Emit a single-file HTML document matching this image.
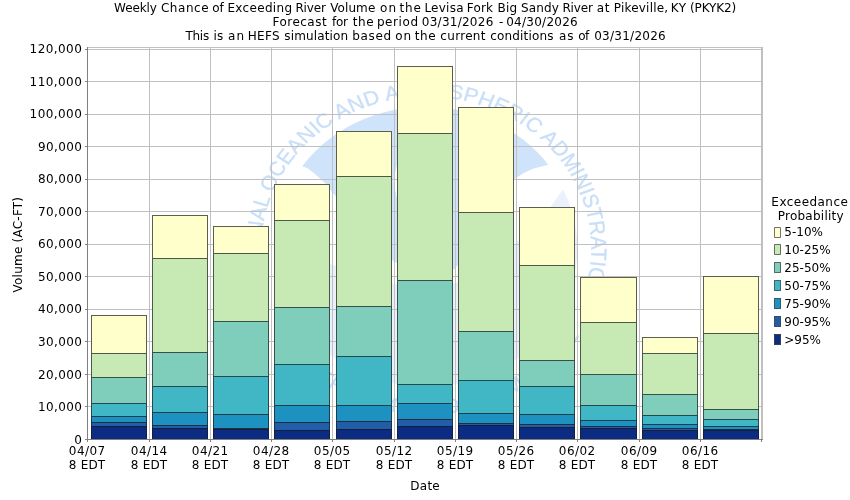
<!DOCTYPE html>
<html lang="en"><head><meta charset="utf-8"><title>Weekly Chance of Exceeding River Volume</title>
<style>html,body{margin:0;padding:0;background:#fff}body{width:850px;height:500px;overflow:hidden}svg{display:block;will-change:transform}text{font-family:"DejaVu Sans","Liberation Sans",sans-serif;font-size:12px;fill:#000}.wm{font-family:"Liberation Sans",sans-serif;font-size:20px;fill:#c9dff8;stroke:#c9dff8;stroke-width:0.35px}</style></head><body>
<svg width="850" height="500" viewBox="0 0 850 500">
<rect width="850" height="500" fill="#fff"/>
<defs><clipPath id="pc"><rect x="88" y="48" width="674" height="391"/></clipPath><path id="arc" d="M 0 152 A 152 152 0 1 1 0.01 152"/><path id="arcb" d="M -165.7 0 A 165.7 165.7 0 0 0 165.7 0"/></defs>
<g clip-path="url(#pc)">
<path d="M563 189.4 L550 207.5 L516 243 L480 272 L455 283 L425 287 L394 284 L333 265 L290 250 L275 250 A151.3 140.6 0 0 0 577.5 250 A151.3 140.6 0 0 0 563 189.4 Z" fill="#eaf1fc"/>
<path d="M302.2 166.3 A151.3 140.6 0 0 1 548.3 164.7 L533.5 168.5 L524 173 L514 179 Q480 232 455 269 Q432 277 394 262 L333 193 L326 184 L315 174 L308 168.4 Z" fill="#cfe4fa"/>
<path d="M393.5 181 L396.5 166 L452 170 L452 200 L396.5 197 Z" fill="#fff"/>
<g transform="translate(426.2,248.6) scale(1.086,1)">
<text class="wm" text-anchor="middle"><textPath href="#arc" startOffset="50%" textLength="573" lengthAdjust="spacing">NATIONAL OCEANIC AND ATMOSPHERIC ADMINISTRATION</textPath></text>
<text class="wm" text-anchor="middle"><textPath href="#arcb" startOffset="50%">U.S. DEPARTMENT OF COMMERCE</textPath></text>
</g>
</g>
<g shape-rendering="crispEdges">
<rect x="149" y="48" width="1" height="391" fill="#c0c0c0"/>
<rect x="210" y="48" width="1" height="391" fill="#c0c0c0"/>
<rect x="271" y="48" width="1" height="391" fill="#c0c0c0"/>
<rect x="332" y="48" width="1" height="391" fill="#c0c0c0"/>
<rect x="394" y="48" width="1" height="391" fill="#c0c0c0"/>
<rect x="455" y="48" width="1" height="391" fill="#c0c0c0"/>
<rect x="516" y="48" width="1" height="391" fill="#c0c0c0"/>
<rect x="577" y="48" width="1" height="391" fill="#c0c0c0"/>
<rect x="639" y="48" width="1" height="391" fill="#c0c0c0"/>
<rect x="700" y="48" width="1" height="391" fill="#c0c0c0"/>
<rect x="761" y="48" width="1" height="391" fill="#c0c0c0"/>
<rect x="88" y="406" width="674" height="1" fill="#c0c0c0"/>
<rect x="88" y="374" width="674" height="1" fill="#c0c0c0"/>
<rect x="88" y="341" width="674" height="1" fill="#c0c0c0"/>
<rect x="88" y="309" width="674" height="1" fill="#c0c0c0"/>
<rect x="88" y="276" width="674" height="1" fill="#c0c0c0"/>
<rect x="88" y="244" width="674" height="1" fill="#c0c0c0"/>
<rect x="88" y="211" width="674" height="1" fill="#c0c0c0"/>
<rect x="88" y="179" width="674" height="1" fill="#c0c0c0"/>
<rect x="88" y="146" width="674" height="1" fill="#c0c0c0"/>
<rect x="88" y="114" width="674" height="1" fill="#c0c0c0"/>
<rect x="88" y="81" width="674" height="1" fill="#c0c0c0"/>
<rect x="88" y="49" width="674" height="1" fill="#c0c0c0"/>
<rect x="88" y="47" width="675" height="1" fill="#c0c0c0"/>
<rect x="762" y="47" width="1" height="393" fill="#c0c0c0"/>
<rect x="91" y="315" width="56" height="38" fill="#ffffcc"/>
<rect x="91" y="353" width="56" height="24" fill="#c7e9b4"/>
<rect x="91" y="377" width="56" height="26" fill="#7fcdbb"/>
<rect x="91" y="403" width="56" height="13" fill="#41b6c4"/>
<rect x="91" y="416" width="56" height="6" fill="#1d91c0"/>
<rect x="91" y="422" width="56" height="4" fill="#225ea8"/>
<rect x="91" y="426" width="56" height="13" fill="#0c2c84"/>
<rect x="91" y="315" width="1" height="124" fill="rgba(25,25,25,0.7)"/>
<rect x="146" y="315" width="1" height="124" fill="rgba(25,25,25,0.7)"/>
<rect x="92" y="315" width="54" height="1" fill="rgba(25,25,25,0.7)"/>
<rect x="92" y="353" width="54" height="1" fill="rgba(25,25,25,0.7)"/>
<rect x="92" y="377" width="54" height="1" fill="rgba(25,25,25,0.7)"/>
<rect x="92" y="403" width="54" height="1" fill="rgba(25,25,25,0.7)"/>
<rect x="92" y="416" width="54" height="1" fill="rgba(25,25,25,0.7)"/>
<rect x="92" y="422" width="54" height="1" fill="rgba(25,25,25,0.7)"/>
<rect x="92" y="426" width="54" height="1" fill="rgba(25,25,25,0.7)"/>
<rect x="152" y="215" width="56" height="43" fill="#ffffcc"/>
<rect x="152" y="258" width="56" height="94" fill="#c7e9b4"/>
<rect x="152" y="352" width="56" height="34" fill="#7fcdbb"/>
<rect x="152" y="386" width="56" height="26" fill="#41b6c4"/>
<rect x="152" y="412" width="56" height="13" fill="#1d91c0"/>
<rect x="152" y="425" width="56" height="3" fill="#225ea8"/>
<rect x="152" y="428" width="56" height="11" fill="#0c2c84"/>
<rect x="152" y="215" width="1" height="224" fill="rgba(25,25,25,0.7)"/>
<rect x="207" y="215" width="1" height="224" fill="rgba(25,25,25,0.7)"/>
<rect x="153" y="215" width="54" height="1" fill="rgba(25,25,25,0.7)"/>
<rect x="153" y="258" width="54" height="1" fill="rgba(25,25,25,0.7)"/>
<rect x="153" y="352" width="54" height="1" fill="rgba(25,25,25,0.7)"/>
<rect x="153" y="386" width="54" height="1" fill="rgba(25,25,25,0.7)"/>
<rect x="153" y="412" width="54" height="1" fill="rgba(25,25,25,0.7)"/>
<rect x="153" y="425" width="54" height="1" fill="rgba(25,25,25,0.7)"/>
<rect x="153" y="428" width="54" height="1" fill="rgba(25,25,25,0.7)"/>
<rect x="213" y="226" width="56" height="27" fill="#ffffcc"/>
<rect x="213" y="253" width="56" height="68" fill="#c7e9b4"/>
<rect x="213" y="321" width="56" height="55" fill="#7fcdbb"/>
<rect x="213" y="376" width="56" height="38" fill="#41b6c4"/>
<rect x="213" y="414" width="56" height="14" fill="#1d91c0"/>
<rect x="213" y="428" width="56" height="1" fill="#225ea8"/>
<rect x="213" y="429" width="56" height="10" fill="#0c2c84"/>
<rect x="213" y="226" width="1" height="213" fill="rgba(25,25,25,0.7)"/>
<rect x="268" y="226" width="1" height="213" fill="rgba(25,25,25,0.7)"/>
<rect x="214" y="226" width="54" height="1" fill="rgba(25,25,25,0.7)"/>
<rect x="214" y="253" width="54" height="1" fill="rgba(25,25,25,0.7)"/>
<rect x="214" y="321" width="54" height="1" fill="rgba(25,25,25,0.7)"/>
<rect x="214" y="376" width="54" height="1" fill="rgba(25,25,25,0.7)"/>
<rect x="214" y="414" width="54" height="1" fill="rgba(25,25,25,0.7)"/>
<rect x="214" y="428" width="54" height="1" fill="rgba(25,25,25,0.7)"/>
<rect x="214" y="429" width="54" height="1" fill="rgba(25,25,25,0.7)"/>
<rect x="274" y="184" width="56" height="36" fill="#ffffcc"/>
<rect x="274" y="220" width="56" height="87" fill="#c7e9b4"/>
<rect x="274" y="307" width="56" height="57" fill="#7fcdbb"/>
<rect x="274" y="364" width="56" height="41" fill="#41b6c4"/>
<rect x="274" y="405" width="56" height="17" fill="#1d91c0"/>
<rect x="274" y="422" width="56" height="8" fill="#225ea8"/>
<rect x="274" y="430" width="56" height="9" fill="#0c2c84"/>
<rect x="274" y="184" width="1" height="255" fill="rgba(25,25,25,0.7)"/>
<rect x="329" y="184" width="1" height="255" fill="rgba(25,25,25,0.7)"/>
<rect x="275" y="184" width="54" height="1" fill="rgba(25,25,25,0.7)"/>
<rect x="275" y="220" width="54" height="1" fill="rgba(25,25,25,0.7)"/>
<rect x="275" y="307" width="54" height="1" fill="rgba(25,25,25,0.7)"/>
<rect x="275" y="364" width="54" height="1" fill="rgba(25,25,25,0.7)"/>
<rect x="275" y="405" width="54" height="1" fill="rgba(25,25,25,0.7)"/>
<rect x="275" y="422" width="54" height="1" fill="rgba(25,25,25,0.7)"/>
<rect x="275" y="430" width="54" height="1" fill="rgba(25,25,25,0.7)"/>
<rect x="336" y="131" width="56" height="45" fill="#ffffcc"/>
<rect x="336" y="176" width="56" height="130" fill="#c7e9b4"/>
<rect x="336" y="306" width="56" height="50" fill="#7fcdbb"/>
<rect x="336" y="356" width="56" height="49" fill="#41b6c4"/>
<rect x="336" y="405" width="56" height="16" fill="#1d91c0"/>
<rect x="336" y="421" width="56" height="8" fill="#225ea8"/>
<rect x="336" y="429" width="56" height="10" fill="#0c2c84"/>
<rect x="336" y="131" width="1" height="308" fill="rgba(25,25,25,0.7)"/>
<rect x="391" y="131" width="1" height="308" fill="rgba(25,25,25,0.7)"/>
<rect x="337" y="131" width="54" height="1" fill="rgba(25,25,25,0.7)"/>
<rect x="337" y="176" width="54" height="1" fill="rgba(25,25,25,0.7)"/>
<rect x="337" y="306" width="54" height="1" fill="rgba(25,25,25,0.7)"/>
<rect x="337" y="356" width="54" height="1" fill="rgba(25,25,25,0.7)"/>
<rect x="337" y="405" width="54" height="1" fill="rgba(25,25,25,0.7)"/>
<rect x="337" y="421" width="54" height="1" fill="rgba(25,25,25,0.7)"/>
<rect x="337" y="429" width="54" height="1" fill="rgba(25,25,25,0.7)"/>
<rect x="397" y="66" width="56" height="67" fill="#ffffcc"/>
<rect x="397" y="133" width="56" height="147" fill="#c7e9b4"/>
<rect x="397" y="280" width="56" height="104" fill="#7fcdbb"/>
<rect x="397" y="384" width="56" height="19" fill="#41b6c4"/>
<rect x="397" y="403" width="56" height="16" fill="#1d91c0"/>
<rect x="397" y="419" width="56" height="7" fill="#225ea8"/>
<rect x="397" y="426" width="56" height="13" fill="#0c2c84"/>
<rect x="397" y="66" width="1" height="373" fill="rgba(25,25,25,0.7)"/>
<rect x="452" y="66" width="1" height="373" fill="rgba(25,25,25,0.7)"/>
<rect x="398" y="66" width="54" height="1" fill="rgba(25,25,25,0.7)"/>
<rect x="398" y="133" width="54" height="1" fill="rgba(25,25,25,0.7)"/>
<rect x="398" y="280" width="54" height="1" fill="rgba(25,25,25,0.7)"/>
<rect x="398" y="384" width="54" height="1" fill="rgba(25,25,25,0.7)"/>
<rect x="398" y="403" width="54" height="1" fill="rgba(25,25,25,0.7)"/>
<rect x="398" y="419" width="54" height="1" fill="rgba(25,25,25,0.7)"/>
<rect x="398" y="426" width="54" height="1" fill="rgba(25,25,25,0.7)"/>
<rect x="458" y="107" width="56" height="105" fill="#ffffcc"/>
<rect x="458" y="212" width="56" height="119" fill="#c7e9b4"/>
<rect x="458" y="331" width="56" height="49" fill="#7fcdbb"/>
<rect x="458" y="380" width="56" height="33" fill="#41b6c4"/>
<rect x="458" y="413" width="56" height="10" fill="#1d91c0"/>
<rect x="458" y="423" width="56" height="2" fill="#225ea8"/>
<rect x="458" y="425" width="56" height="14" fill="#0c2c84"/>
<rect x="458" y="107" width="1" height="332" fill="rgba(25,25,25,0.7)"/>
<rect x="513" y="107" width="1" height="332" fill="rgba(25,25,25,0.7)"/>
<rect x="459" y="107" width="54" height="1" fill="rgba(25,25,25,0.7)"/>
<rect x="459" y="212" width="54" height="1" fill="rgba(25,25,25,0.7)"/>
<rect x="459" y="331" width="54" height="1" fill="rgba(25,25,25,0.7)"/>
<rect x="459" y="380" width="54" height="1" fill="rgba(25,25,25,0.7)"/>
<rect x="459" y="413" width="54" height="1" fill="rgba(25,25,25,0.7)"/>
<rect x="459" y="423" width="54" height="1" fill="rgba(25,25,25,0.7)"/>
<rect x="459" y="425" width="54" height="1" fill="rgba(25,25,25,0.7)"/>
<rect x="519" y="207" width="56" height="58" fill="#ffffcc"/>
<rect x="519" y="265" width="56" height="95" fill="#c7e9b4"/>
<rect x="519" y="360" width="56" height="26" fill="#7fcdbb"/>
<rect x="519" y="386" width="56" height="28" fill="#41b6c4"/>
<rect x="519" y="414" width="56" height="10" fill="#1d91c0"/>
<rect x="519" y="424" width="56" height="3" fill="#225ea8"/>
<rect x="519" y="427" width="56" height="12" fill="#0c2c84"/>
<rect x="519" y="207" width="1" height="232" fill="rgba(25,25,25,0.7)"/>
<rect x="574" y="207" width="1" height="232" fill="rgba(25,25,25,0.7)"/>
<rect x="520" y="207" width="54" height="1" fill="rgba(25,25,25,0.7)"/>
<rect x="520" y="265" width="54" height="1" fill="rgba(25,25,25,0.7)"/>
<rect x="520" y="360" width="54" height="1" fill="rgba(25,25,25,0.7)"/>
<rect x="520" y="386" width="54" height="1" fill="rgba(25,25,25,0.7)"/>
<rect x="520" y="414" width="54" height="1" fill="rgba(25,25,25,0.7)"/>
<rect x="520" y="424" width="54" height="1" fill="rgba(25,25,25,0.7)"/>
<rect x="520" y="427" width="54" height="1" fill="rgba(25,25,25,0.7)"/>
<rect x="580" y="277" width="57" height="45" fill="#ffffcc"/>
<rect x="580" y="322" width="57" height="52" fill="#c7e9b4"/>
<rect x="580" y="374" width="57" height="31" fill="#7fcdbb"/>
<rect x="580" y="405" width="57" height="15" fill="#41b6c4"/>
<rect x="580" y="420" width="57" height="6" fill="#1d91c0"/>
<rect x="580" y="426" width="57" height="2" fill="#225ea8"/>
<rect x="580" y="428" width="57" height="11" fill="#0c2c84"/>
<rect x="580" y="277" width="1" height="162" fill="rgba(25,25,25,0.7)"/>
<rect x="636" y="277" width="1" height="162" fill="rgba(25,25,25,0.7)"/>
<rect x="581" y="277" width="55" height="1" fill="rgba(25,25,25,0.7)"/>
<rect x="581" y="322" width="55" height="1" fill="rgba(25,25,25,0.7)"/>
<rect x="581" y="374" width="55" height="1" fill="rgba(25,25,25,0.7)"/>
<rect x="581" y="405" width="55" height="1" fill="rgba(25,25,25,0.7)"/>
<rect x="581" y="420" width="55" height="1" fill="rgba(25,25,25,0.7)"/>
<rect x="581" y="426" width="55" height="1" fill="rgba(25,25,25,0.7)"/>
<rect x="581" y="428" width="55" height="1" fill="rgba(25,25,25,0.7)"/>
<rect x="642" y="337" width="56" height="16" fill="#ffffcc"/>
<rect x="642" y="353" width="56" height="41" fill="#c7e9b4"/>
<rect x="642" y="394" width="56" height="21" fill="#7fcdbb"/>
<rect x="642" y="415" width="56" height="9" fill="#41b6c4"/>
<rect x="642" y="424" width="56" height="4" fill="#1d91c0"/>
<rect x="642" y="428" width="56" height="2" fill="#225ea8"/>
<rect x="642" y="430" width="56" height="9" fill="#0c2c84"/>
<rect x="642" y="337" width="1" height="102" fill="rgba(25,25,25,0.7)"/>
<rect x="697" y="337" width="1" height="102" fill="rgba(25,25,25,0.7)"/>
<rect x="643" y="337" width="54" height="1" fill="rgba(25,25,25,0.7)"/>
<rect x="643" y="353" width="54" height="1" fill="rgba(25,25,25,0.7)"/>
<rect x="643" y="394" width="54" height="1" fill="rgba(25,25,25,0.7)"/>
<rect x="643" y="415" width="54" height="1" fill="rgba(25,25,25,0.7)"/>
<rect x="643" y="424" width="54" height="1" fill="rgba(25,25,25,0.7)"/>
<rect x="643" y="428" width="54" height="1" fill="rgba(25,25,25,0.7)"/>
<rect x="643" y="430" width="54" height="1" fill="rgba(25,25,25,0.7)"/>
<rect x="703" y="276" width="56" height="57" fill="#ffffcc"/>
<rect x="703" y="333" width="56" height="76" fill="#c7e9b4"/>
<rect x="703" y="409" width="56" height="10" fill="#7fcdbb"/>
<rect x="703" y="419" width="56" height="7" fill="#41b6c4"/>
<rect x="703" y="426" width="56" height="3" fill="#1d91c0"/>
<rect x="703" y="429" width="56" height="1" fill="#225ea8"/>
<rect x="703" y="430" width="56" height="9" fill="#0c2c84"/>
<rect x="703" y="276" width="1" height="163" fill="rgba(25,25,25,0.7)"/>
<rect x="758" y="276" width="1" height="163" fill="rgba(25,25,25,0.7)"/>
<rect x="704" y="276" width="54" height="1" fill="rgba(25,25,25,0.7)"/>
<rect x="704" y="333" width="54" height="1" fill="rgba(25,25,25,0.7)"/>
<rect x="704" y="409" width="54" height="1" fill="rgba(25,25,25,0.7)"/>
<rect x="704" y="419" width="54" height="1" fill="rgba(25,25,25,0.7)"/>
<rect x="704" y="426" width="54" height="1" fill="rgba(25,25,25,0.7)"/>
<rect x="704" y="429" width="54" height="1" fill="rgba(25,25,25,0.7)"/>
<rect x="704" y="430" width="54" height="1" fill="rgba(25,25,25,0.7)"/>
<rect x="87" y="47" width="1" height="395" fill="#808080"/>
<rect x="85" y="439" width="678" height="1" fill="#808080"/>
<rect x="85" y="406" width="2" height="1" fill="#808080"/>
<rect x="85" y="374" width="2" height="1" fill="#808080"/>
<rect x="85" y="341" width="2" height="1" fill="#808080"/>
<rect x="85" y="309" width="2" height="1" fill="#808080"/>
<rect x="85" y="276" width="2" height="1" fill="#808080"/>
<rect x="85" y="244" width="2" height="1" fill="#808080"/>
<rect x="85" y="211" width="2" height="1" fill="#808080"/>
<rect x="85" y="179" width="2" height="1" fill="#808080"/>
<rect x="85" y="146" width="2" height="1" fill="#808080"/>
<rect x="85" y="114" width="2" height="1" fill="#808080"/>
<rect x="85" y="81" width="2" height="1" fill="#808080"/>
<rect x="85" y="49" width="2" height="1" fill="#808080"/>
<rect x="149" y="440" width="1" height="2" fill="#808080"/>
<rect x="210" y="440" width="1" height="2" fill="#808080"/>
<rect x="271" y="440" width="1" height="2" fill="#808080"/>
<rect x="332" y="440" width="1" height="2" fill="#808080"/>
<rect x="394" y="440" width="1" height="2" fill="#808080"/>
<rect x="455" y="440" width="1" height="2" fill="#808080"/>
<rect x="516" y="440" width="1" height="2" fill="#808080"/>
<rect x="577" y="440" width="1" height="2" fill="#808080"/>
<rect x="639" y="440" width="1" height="2" fill="#808080"/>
<rect x="700" y="440" width="1" height="2" fill="#808080"/>
<rect x="761" y="440" width="1" height="2" fill="#808080"/>
</g>
<text x="81.8" y="444" text-anchor="end" textLength="8" lengthAdjust="spacing">0</text>
<text x="81.8" y="411" text-anchor="end" textLength="43.8" lengthAdjust="spacing">10,000</text>
<text x="81.8" y="379" text-anchor="end" textLength="43.8" lengthAdjust="spacing">20,000</text>
<text x="81.8" y="346" text-anchor="end" textLength="43.8" lengthAdjust="spacing">30,000</text>
<text x="81.8" y="313" text-anchor="end" textLength="43.8" lengthAdjust="spacing">40,000</text>
<text x="81.8" y="281" text-anchor="end" textLength="43.8" lengthAdjust="spacing">50,000</text>
<text x="81.8" y="248" text-anchor="end" textLength="43.8" lengthAdjust="spacing">60,000</text>
<text x="81.8" y="216" text-anchor="end" textLength="43.8" lengthAdjust="spacing">70,000</text>
<text x="81.8" y="183" text-anchor="end" textLength="43.8" lengthAdjust="spacing">80,000</text>
<text x="81.8" y="151" text-anchor="end" textLength="43.8" lengthAdjust="spacing">90,000</text>
<text x="81.8" y="118" text-anchor="end" textLength="52.2" lengthAdjust="spacing">100,000</text>
<text x="81.8" y="86" text-anchor="end" textLength="52.2" lengthAdjust="spacing">110,000</text>
<text x="81.8" y="53" text-anchor="end" textLength="52.2" lengthAdjust="spacing">120,000</text>
<text x="87" y="455" text-anchor="middle" textLength="36.3" lengthAdjust="spacing">04/07</text>
<text x="87" y="469" text-anchor="middle" textLength="36.3" lengthAdjust="spacing">8 EDT</text>
<text x="149" y="455" text-anchor="middle" textLength="36.3" lengthAdjust="spacing">04/14</text>
<text x="149" y="469" text-anchor="middle" textLength="36.3" lengthAdjust="spacing">8 EDT</text>
<text x="210" y="455" text-anchor="middle" textLength="36.3" lengthAdjust="spacing">04/21</text>
<text x="210" y="469" text-anchor="middle" textLength="36.3" lengthAdjust="spacing">8 EDT</text>
<text x="271" y="455" text-anchor="middle" textLength="36.3" lengthAdjust="spacing">04/28</text>
<text x="271" y="469" text-anchor="middle" textLength="36.3" lengthAdjust="spacing">8 EDT</text>
<text x="332" y="455" text-anchor="middle" textLength="36.3" lengthAdjust="spacing">05/05</text>
<text x="332" y="469" text-anchor="middle" textLength="36.3" lengthAdjust="spacing">8 EDT</text>
<text x="394" y="455" text-anchor="middle" textLength="36.3" lengthAdjust="spacing">05/12</text>
<text x="394" y="469" text-anchor="middle" textLength="36.3" lengthAdjust="spacing">8 EDT</text>
<text x="455" y="455" text-anchor="middle" textLength="36.3" lengthAdjust="spacing">05/19</text>
<text x="455" y="469" text-anchor="middle" textLength="36.3" lengthAdjust="spacing">8 EDT</text>
<text x="516" y="455" text-anchor="middle" textLength="36.3" lengthAdjust="spacing">05/26</text>
<text x="516" y="469" text-anchor="middle" textLength="36.3" lengthAdjust="spacing">8 EDT</text>
<text x="577" y="455" text-anchor="middle" textLength="36.3" lengthAdjust="spacing">06/02</text>
<text x="577" y="469" text-anchor="middle" textLength="36.3" lengthAdjust="spacing">8 EDT</text>
<text x="639" y="455" text-anchor="middle" textLength="36.3" lengthAdjust="spacing">06/09</text>
<text x="639" y="469" text-anchor="middle" textLength="36.3" lengthAdjust="spacing">8 EDT</text>
<text x="700" y="455" text-anchor="middle" textLength="36.3" lengthAdjust="spacing">06/16</text>
<text x="700" y="469" text-anchor="middle" textLength="36.3" lengthAdjust="spacing">8 EDT</text>
<text x="425" y="490" text-anchor="middle" textLength="29.5" lengthAdjust="spacing">Date</text>
<text transform="translate(22,244.7) rotate(-90)" text-anchor="middle" textLength="95.5" lengthAdjust="spacing">Volume (AC-FT)</text>
<text y="12"><tspan x="114.1" textLength="42.8" lengthAdjust="spacing">Weekly</tspan> <tspan x="160.9" textLength="47.7" lengthAdjust="spacing">Chance</tspan> <tspan x="212.3" textLength="11.4" lengthAdjust="spacing">of</tspan> <tspan x="227.4" textLength="64.7" lengthAdjust="spacing">Exceeding</tspan> <tspan x="295.4" textLength="30.6" lengthAdjust="spacing">River</tspan> <tspan x="330.2" textLength="45.1" lengthAdjust="spacing">Volume</tspan> <tspan x="379.9" textLength="16.1" lengthAdjust="spacing">on</tspan> <tspan x="399.6" textLength="21.3" lengthAdjust="spacing">the</tspan> <tspan x="424.4" textLength="39.1" lengthAdjust="spacing">Levisa</tspan> <tspan x="466.8" textLength="26.2" lengthAdjust="spacing">Fork</tspan> <tspan x="497.4" textLength="19.7" lengthAdjust="spacing">Big</tspan> <tspan x="521.0" textLength="37.8" lengthAdjust="spacing">Sandy</tspan> <tspan x="562.4" textLength="30.5" lengthAdjust="spacing">River</tspan> <tspan x="596.7" textLength="12.7" lengthAdjust="spacing">at</tspan> <tspan x="613.8" textLength="54.3" lengthAdjust="spacing">Pikeville,</tspan> <tspan x="670.8" textLength="15.2" lengthAdjust="spacing">KY</tspan> <tspan x="690.0" textLength="46.1" lengthAdjust="spacing">(PKYK2)</tspan></text>
<text y="26"><tspan x="272.4" textLength="54.3" lengthAdjust="spacing">Forecast</tspan> <tspan x="332.1" textLength="15.9" lengthAdjust="spacing">for</tspan> <tspan x="352.7" textLength="21.0" lengthAdjust="spacing">the</tspan> <tspan x="376.9" textLength="41.2" lengthAdjust="spacing">period</tspan> <tspan x="421.8" textLength="71.5" lengthAdjust="spacing">03/31/2026</tspan> <tspan x="499.0" textLength="5.2" lengthAdjust="spacing">-</tspan> <tspan x="506.2" textLength="71.5" lengthAdjust="spacing">04/30/2026</tspan></text>
<text y="40"><tspan x="185.4" textLength="23.8" lengthAdjust="spacing">This</tspan> <tspan x="213.5" textLength="9.7" lengthAdjust="spacing">is</tspan> <tspan x="227.9" textLength="16.1" lengthAdjust="spacing">an</tspan> <tspan x="247.8" textLength="31.8" lengthAdjust="spacing">HEFS</tspan> <tspan x="284.3" textLength="63.7" lengthAdjust="spacing">simulation</tspan> <tspan x="352.3" textLength="38.8" lengthAdjust="spacing">based</tspan> <tspan x="395.3" textLength="15.7" lengthAdjust="spacing">on</tspan> <tspan x="414.7" textLength="21.0" lengthAdjust="spacing">the</tspan> <tspan x="440.3" textLength="45.2" lengthAdjust="spacing">current</tspan> <tspan x="490.3" textLength="63.2" lengthAdjust="spacing">conditions</tspan> <tspan x="558.9" textLength="14.7" lengthAdjust="spacing">as</tspan> <tspan x="578.3" textLength="11.0" lengthAdjust="spacing">of</tspan> <tspan x="594.2" textLength="71.5" lengthAdjust="spacing">03/31/2026</tspan></text>
<text x="809.6" y="206" text-anchor="middle" textLength="76.5" lengthAdjust="spacing">Exceedance</text>
<text x="810.7" y="220" text-anchor="middle" textLength="66" lengthAdjust="spacing">Probability</text>
<rect x="774" y="227" width="7" height="11" fill="#ffffcc"/>
<path d="M774.5 227.5h6v10h-6z" fill="none" stroke="rgba(70,70,70,0.75)" stroke-width="1"/>
<text x="784.3" y="236">5-10%</text>
<rect x="774" y="244" width="7" height="11" fill="#c7e9b4"/>
<path d="M774.5 244.5h6v10h-6z" fill="none" stroke="rgba(70,70,70,0.75)" stroke-width="1"/>
<text x="784.3" y="254">10-25%</text>
<rect x="774" y="262" width="7" height="11" fill="#7fcdbb"/>
<path d="M774.5 262.5h6v10h-6z" fill="none" stroke="rgba(70,70,70,0.75)" stroke-width="1"/>
<text x="784.3" y="272">25-50%</text>
<rect x="774" y="280" width="7" height="11" fill="#41b6c4"/>
<path d="M774.5 280.5h6v10h-6z" fill="none" stroke="rgba(70,70,70,0.75)" stroke-width="1"/>
<text x="784.3" y="290">50-75%</text>
<rect x="774" y="298" width="7" height="11" fill="#1d91c0"/>
<path d="M774.5 298.5h6v10h-6z" fill="none" stroke="rgba(70,70,70,0.75)" stroke-width="1"/>
<text x="784.3" y="308">75-90%</text>
<rect x="774" y="316" width="7" height="11" fill="#225ea8"/>
<path d="M774.5 316.5h6v10h-6z" fill="none" stroke="rgba(70,70,70,0.75)" stroke-width="1"/>
<text x="784.3" y="326">90-95%</text>
<rect x="774" y="334" width="7" height="11" fill="#0c2c84"/>
<path d="M774.5 334.5h6v10h-6z" fill="none" stroke="rgba(70,70,70,0.75)" stroke-width="1"/>
<text x="784.3" y="344">>95%</text>
</svg></body></html>
